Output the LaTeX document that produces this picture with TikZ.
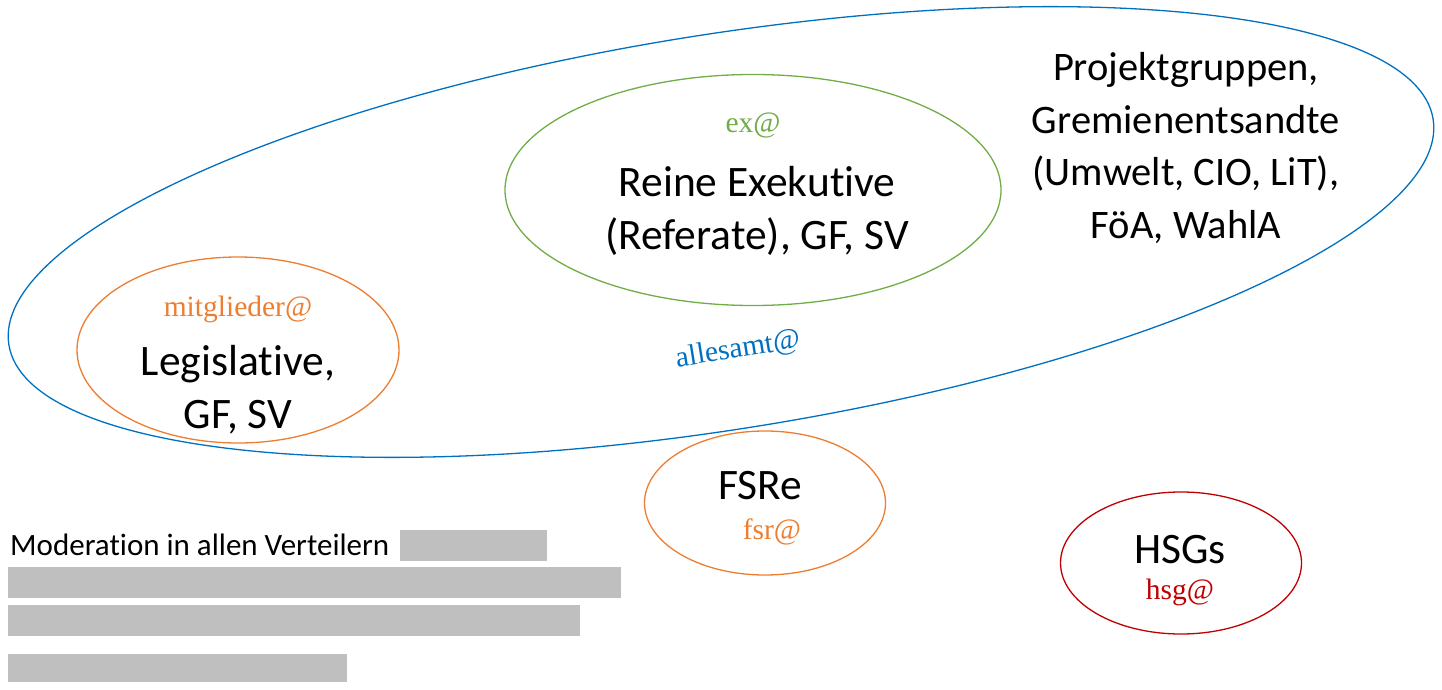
\documentclass[tikz,border=0pt]{standalone}
\usepackage{fontspec}
\setmainfont{Carlito}[Ligatures=NoCommon]
\newfontfamily\mailfont{Liberation Serif}
\usetikzlibrary{shapes.geometric}

\definecolor{allblue}{HTML}{0070C0}
\definecolor{exgreen}{HTML}{70AD47}
\definecolor{legorange}{HTML}{ED7D31}
\definecolor{hsgred}{HTML}{C00000}
\definecolor{redact}{HTML}{BFBFBF}

\begin{document}
\begin{tikzpicture}[x=1pt, y=-1pt,
    ring/.style={ellipse, draw, line width=1.3pt, inner sep=0pt},
    big/.style={align=center, font=\fontsize{43.5}{53}\selectfont},
    mail/.style={font=\mailfont\fontsize{29.5}{34}\selectfont}]
    \useasboundingbox (0,0) rectangle (1442,690);

    % Draw the big ellipse round everything
    \node[ring, allblue, rotate=9, minimum width=1442pt, minimum height=395pt] (alle) at (721,232) {};
    \node[mail, text=allblue, rotate=9] (allesamt) at (738,350) {allesamt@};

    % Draw executive
    \node[ring, exgreen, minimum width=496pt, minimum height=231pt] (exring) at (753,190) {};
    \node[mail, text=exgreen] (exmail) at (753,125) {ex@};
    \node[big] (exek) at (757,211) {Reine Exekutive\\(Referate), GF, SV};

    % Draw legislative
    \node[ring, legorange, minimum width=322pt, minimum height=186pt] (legring) at (238,350) {};
    \node[mail, text=legorange] (legmail) at (238,309) {mitglieder@};
    \node[big] (legis) at (238,390) {Legislative,\\GF, SV};

    % Add the groups without ring
    \node[big, font=\fontsize{40.5}{52.5}\selectfont] (projekt) at (1186,148) {Projektgruppen,\\Gremienentsandte\\(Umwelt, CIO, LiT),\\FöA, WahlA};

    % Draw FSRe and HSGs
    \node[ring, legorange, minimum width=241pt, minimum height=144pt] (fsrring) at (765,503) {};
    \node[big] (fsre) at (760,486) {FSRe};
    \node[mail, text=legorange] (fsrmail) at (772,532) {fsr@};
    \node[ring, hsgred, minimum width=241pt, minimum height=142pt] (hsgring) at (1181,563) {};
    \node[big] (hsgs) at (1180,550) {HSGs};
    \node[mail, text=hsgred] (hsgmail) at (1180,592) {hsg@};

    % Moderation and blacked out lines
    \node[anchor=base west, inner sep=0pt, font=\fontsize{31}{36}\selectfont] (moder) at (10,555) {Moderation in allen Verteilern};
    \fill[redact] (400,530) rectangle (547,561);
    \foreach \w/\y/\h in {621/567/31, 580/605/31, 347/654/28}
        \fill[redact] (8,\y) rectangle (\w,\y+\h);
\end{tikzpicture}
\end{document}
